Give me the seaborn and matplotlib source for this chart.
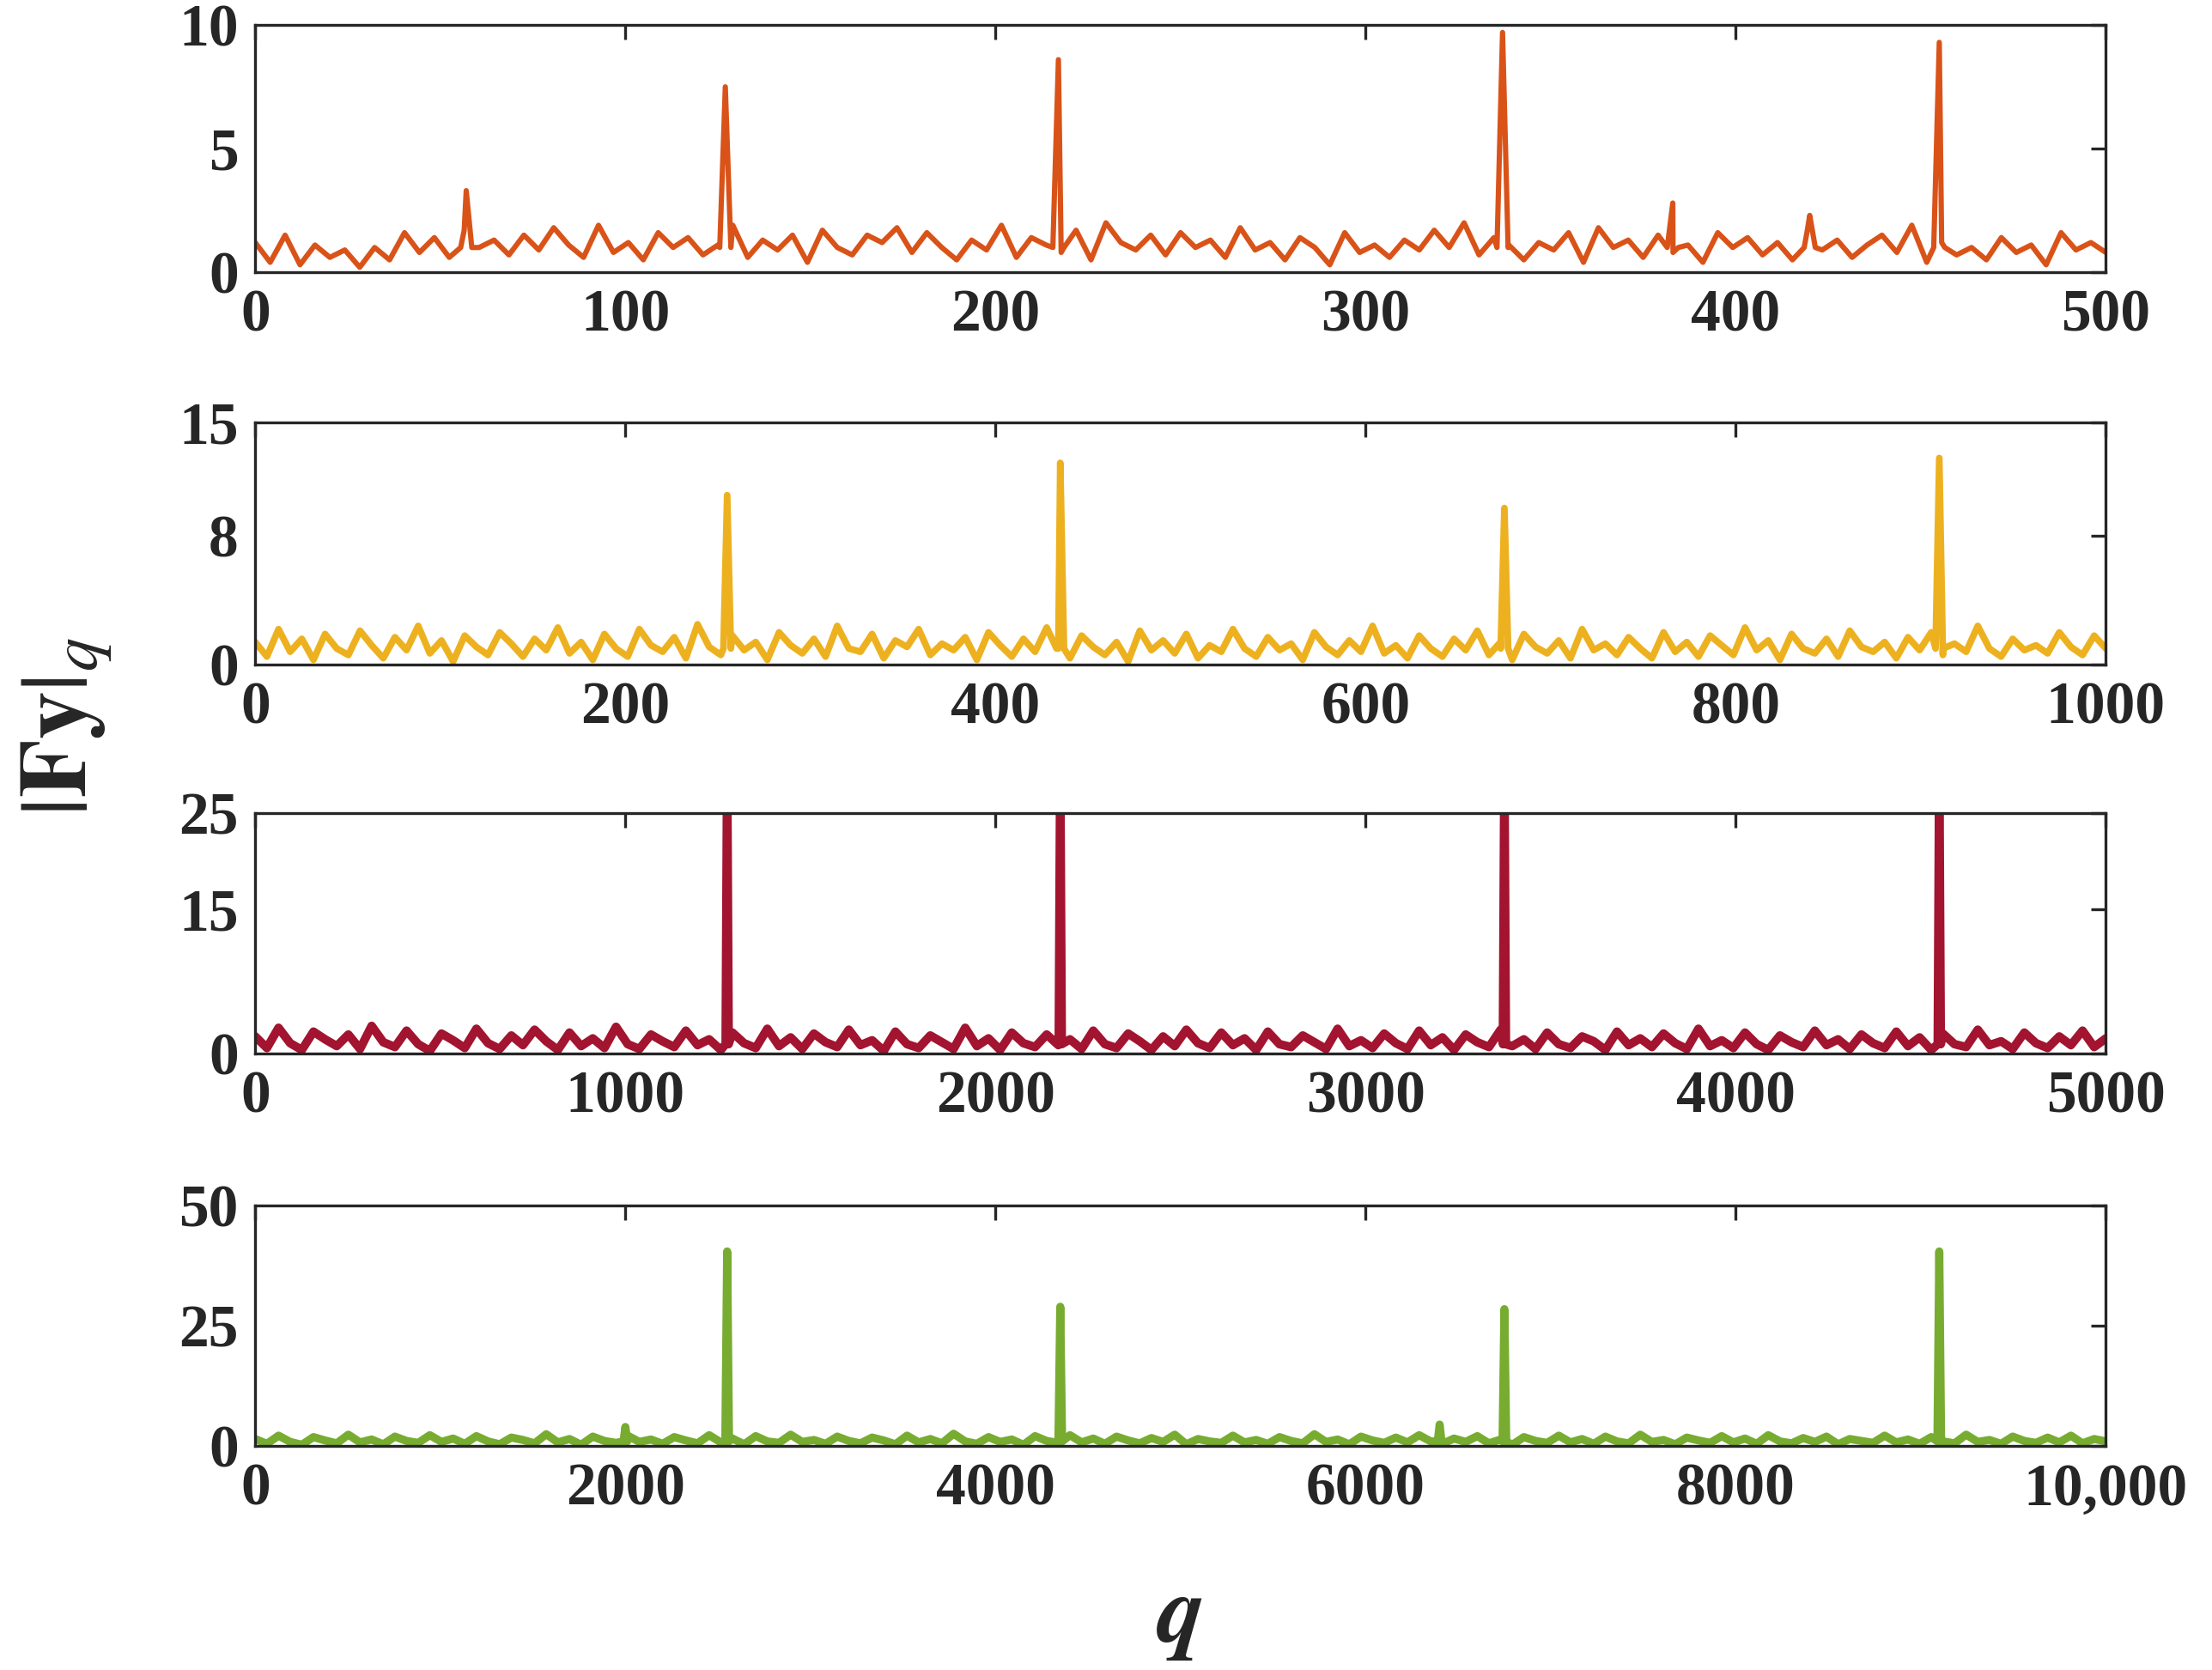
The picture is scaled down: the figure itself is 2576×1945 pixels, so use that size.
import numpy as np
import pandas as pd
import matplotlib
matplotlib.use("Agg")
import matplotlib.pyplot as plt
import seaborn as sns

sns.set_style("white")
plt.rcParams['font.family'] = ['Liberation Serif', 'DejaVu Serif']
plt.rcParams['mathtext.fontset'] = 'stix'

# ---------------- data ----------------
xmax = [500, 1000, 5000, 10000]
colors = ["#D95319", "#EDB120", "#A2142F", "#77AC30"]
yticks = [[0, 5, 10], [0, 8, 15], [0, 15, 25], [0, 25, 50]]
xticks = [[0, 100, 200, 300, 400, 500],
          [0, 200, 400, 600, 800, 1000],
          [0, 1000, 2000, 3000, 4000, 5000],
          [0, 2000, 4000, 6000, 8000, 10000]]
xticklabels = [["0", "100", "200", "300", "400", "500"],
               ["0", "200", "400", "600", "800", "1000"],
               ["0", "1000", "2000", "3000", "4000", "5000"],
               ["0", "2000", "4000", "6000", "8000", "10,000"]]

noise1 = [1.2,0.4,1.5,0.3,1.1,0.6,0.9,0.2,1.0,0.5,1.6,0.8,1.4,0.6,1.7,1.0,1.3,0.7,1.5,0.9,
          1.8,1.1,0.6,1.9,0.8,1.2,0.5,1.6,1.0,1.4,0.7,1.1,1.9,0.6,1.3,0.9,1.5,0.4,1.7,1.0,
          0.7,1.5,1.2,1.8,0.8,1.6,1.0,0.5,1.3,0.9,1.9,0.6,1.4,1.1,0.8,1.7,0.5,2.0,1.2,0.9,
          1.5,0.7,1.6,1.0,1.3,0.6,1.8,0.9,1.2,0.5,1.4,1.0,0.3,1.6,0.8,1.1,0.6,1.3,0.9,1.7,
          1.0,2.0,0.7,1.4,1.1,0.5,1.2,0.9,1.6,0.4,1.8,1.0,1.3,0.6,1.5,0.8,1.1,0.4,1.6,1.0,
          1.4,0.7,1.2,0.5,1.7,0.9,1.3,0.6,1.1,1.5,0.8,1.9,0.4,1.2,0.7,1.0,0.5,1.4,0.8,1.1,
          0.3,1.6,0.9,1.2,0.8]
noise2 = [1.4,0.5,2.2,0.8,1.6,0.3,1.9,1.0,0.6,2.1,1.2,0.4,1.7,0.9,2.4,0.7,1.5,0.2,1.8,1.1,
          0.6,2.0,1.3,0.5,1.6,0.9,2.3,0.7,1.4,0.3,1.9,1.0,0.5,2.2,1.2,0.8,1.7,0.4,2.5,1.1,
          0.6,1.8,0.9,1.4,0.3,2.0,1.2,0.7,1.6,0.5,2.4,1.0,0.8,1.9,0.4,1.5,1.1,2.2,0.6,1.3,
          0.9,1.7,0.3,2.0,1.2,0.5,1.6,0.8,2.3,1.0,0.4,1.8,1.1,0.6,1.4,0.2,2.1,0.9,1.5,0.7,
          1.9,0.4,1.2,0.8,2.2,1.0,0.5,1.7,0.9,1.3,0.3,2.0,1.1,0.6,1.5,0.8,2.4,0.7,1.2,0.4,
          1.8,1.0,0.5,1.6,0.9,2.1,0.6,1.4,0.3,1.9,1.1,0.7,1.5,0.4,2.2,0.9,1.3,0.6,1.7,1.0,
          0.4,2.0,0.8,1.4,0.5,1.8,1.2,0.6,2.3,0.9,1.5,0.3,1.9,1.0,0.7,1.6,0.5,2.1,1.1,0.8,
          1.4,0.4,1.7,0.9,2.0,0.6,1.3,0.8,2.4,1.0,0.5,1.6,0.9,1.2,0.7,2.0,1.1,0.6,1.8,1.0]
noise3 = [1.8,0.6,2.7,1.1,0.4,2.3,1.5,0.8,2.0,0.5,2.9,1.2,0.7,2.4,1.0,0.3,2.1,1.4,0.6,2.6,
          1.1,0.5,1.9,0.9,2.5,1.3,0.4,2.2,0.8,1.6,0.6,2.8,1.0,0.5,2.0,1.3,0.7,2.4,0.9,1.5,
          0.4,2.2,1.1,0.6,2.6,0.8,1.7,0.5,2.1,1.2,0.7,2.5,0.9,1.4,0.3,2.3,1.0,0.6,1.9,1.2,
          0.5,2.7,0.8,1.6,0.4,2.2,1.1,0.7,2.0,0.9,1.5,0.5,2.4,1.0,0.6,2.1,1.3,0.4,1.8,0.8,
          2.5,1.1,0.6,2.2,0.9,1.6,0.4,2.3,1.0,0.7,1.9,1.2,0.5,2.6,0.8,1.4,0.6,2.1,1.1,0.5,
          2.4,0.9,1.7,0.4,2.0,1.2,0.7,2.5,0.8,1.5,0.5,2.2,1.0,0.6,1.8,1.3,0.4,2.3,0.9,1.6,
          0.7,2.1,1.1,0.5,2.6,0.8,1.4,0.6,2.2,1.0,0.4,1.9,1.2,0.7,2.4,0.9,1.5,0.5,2.0,1.1,
          0.6,2.3,0.8,1.7,0.4,2.1,1.0,0.7,2.5,0.9,1.3,0.5,2.2,1.1,0.6,1.8,0.9,2.4,0.7,1.6]
noise4 = [1.5,0.5,2.2,0.9,0.3,1.9,1.2,0.6,2.4,0.8,1.4,0.4,2.0,1.1,0.7,2.3,0.9,1.6,0.5,2.1,
          1.0,0.4,1.8,1.3,0.6,2.5,0.8,1.5,0.3,2.0,1.1,0.7,2.2,0.9,1.4,0.5,1.9,1.2,0.6,2.3,
          0.8,1.6,0.4,2.1,1.0,0.7,2.4,0.9,1.3,0.5,2.0,1.1,0.6,1.8,1.2,0.4,2.2,0.8,1.5,0.6,
          2.6,1.0,0.5,1.9,0.9,1.4,0.3,2.1,1.1,0.7,2.3,0.8,1.6,0.5,2.0,1.2,0.6,1.7,0.9,2.4,
          0.4,1.5,1.0,0.7,2.2,0.8,1.3,0.5,1.9,1.1,0.6,2.5,0.9,1.4,0.4,2.0,1.2,0.7,1.8,0.8,
          2.3,1.0,0.5,1.6,0.9,2.1,0.6,1.4,0.3,1.9,1.1,0.7,2.2,0.8,1.5,0.5,2.0,1.0,0.6,2.4,
          0.9,1.3,0.4,1.8,1.2,0.7,2.1,0.8,1.6,0.5,2.3,1.0,0.6,1.7,0.9,2.0,0.4,1.5,1.1,0.7,
          2.2,0.8,1.4,0.5,1.9,1.0,0.6,2.4,0.9,1.3,0.5,2.0,1.1,0.7,1.8,0.8,2.2,0.6,1.5,1.0]
noises = [noise1, noise2, noise3, noise4]

peak_q = [[57, 127, 217, 337, 383, 420, 455],
          [255, 435, 675, 910],
          [1275, 2175, 3375, 4550],
          [2000, 2550, 4350, 6400, 6750, 9100]]
peak_h = [[3.3, 7.5, 8.6, 9.7, 2.8, 2.3, 9.3],
          [10.5, 12.5, 9.7, 12.8],
          [30, 30, 30, 30],
          [4.0, 40.5, 29, 4.5, 28.5, 40.5]]
peak_w = [1.5, 2, 4, 10]
lws = [2.2, 2.8, 3.6, 3.4]

# ---------------- figure ----------------
fig = plt.figure(figsize=(12.88, 9.725), dpi=200)
boxes = [(0.985, 0.837), (0.747, 0.602), (0.513, 0.369), (0.278, 0.134)]
L, R = 0.1154, 0.952
fs = 25
for i in range(4):
    top, bot = boxes[i]
    ax = fig.add_axes([L, bot, R - L, top - bot])
    n = noises[i]
    xs = list(np.linspace(0, xmax[i], len(n)))
    ys = list(n)
    for q, h in zip(peak_q[i], peak_h[i]):
        w = peak_w[i]
        xs += [q - w, q, q + w]
        ys += [1.0, h, 1.0]
    df = pd.DataFrame({"q": xs, "F": ys})
    sns.lineplot(data=df, x="q", y="F", ax=ax, color=colors[i], lw=lws[i],
                 estimator=None, sort=True)
    ax.set_xlim(0, xmax[i])
    ax.set_ylim(0, yticks[i][-1])
    ax.set_yticks(yticks[i])
    ax.set_xticks(xticks[i])
    ax.set_xticklabels(xticklabels[i])
    ax.set_xlabel("")
    ax.set_ylabel("")
    ax.tick_params(direction="in", length=6, width=1.2, top=True, right=True,
                   labelsize=fs, pad=7)
    for lab in ax.get_xticklabels() + ax.get_yticklabels():
        lab.set_fontweight("bold")
        lab.set_color("#262626")
    for s in ax.spines.values():
        s.set_linewidth(1.2)
        s.set_color("#262626")

fig.text(0.03, 0.565, r"$|\mathbf{Fy}|_{q}$", rotation=90, fontsize=40,
         va="center", ha="center", color="#262626")
fig.text(0.533, 0.03, r"$\boldsymbol{q}$", fontsize=40, ha="center", va="center",
         color="#262626")
fig.savefig("out.png", dpi=200)
